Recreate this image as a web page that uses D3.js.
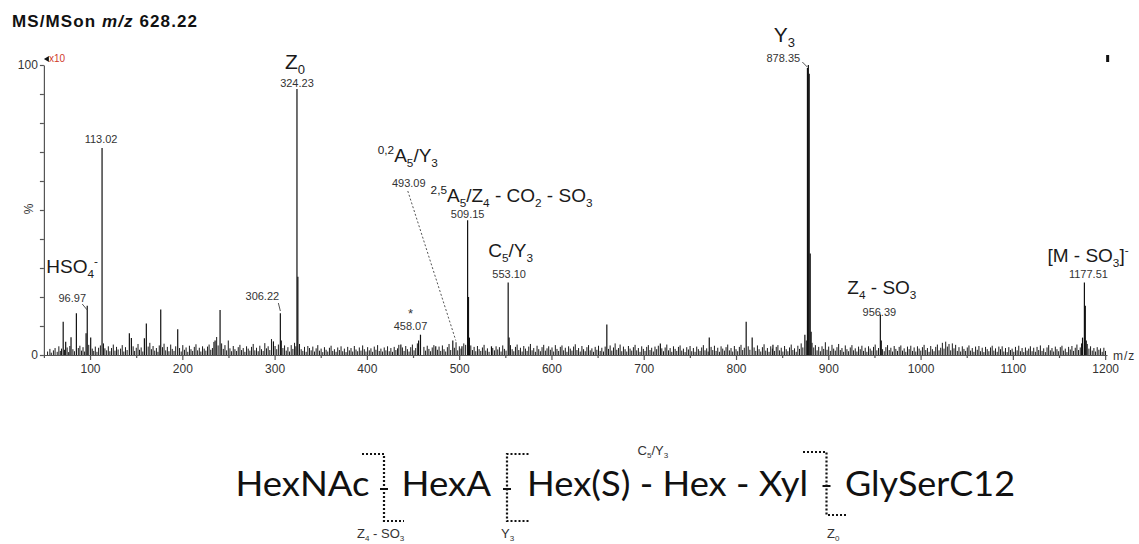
<!DOCTYPE html>
<html><head><meta charset="utf-8">
<script src="https://cdn.jsdelivr.net/npm/d3@7"></script>
<style>
body{margin:0;background:#fff}
</style>
</head><body>
<svg id="c" width="1139" height="544" style="font-family:Arial,'Liberation Sans',sans-serif"></svg>
<script>
// ---------- data ----------
const xTicks = [100,200,300,400,500,600,700,800,900,1000,1100,1200];
const xMinorTicks = [50,150,250,350,450,550,650,750,850,950,1050,1150];
const yTicks = [0,10,20,30,40,50,60,70,80,90,100];
const yTickLabels = {0:"0",100:"100"};

// [m/z, relative intensity %]
const majorPeaks = [
 [70.9,11.5],[73.6,4.6],[79.4,6.1],[85.2,14.4],[95.7,7.5],[96.97,17],[100.7,6],
 [113.02,71.4],[142.6,7.5],[144.8,5.9],[158.9,5.8],[161,10.9],[176.6,15.7],[195,8.9],
 [235.5,5],[240.9,15.5],[298.7,4.7],[306.22,14.4],[307.2,5],[324.23,91.7],[325.2,27],
 [436.8,3.6],[456,5],[458.07,7],[474.6,3],[493.09,5],[503,3],[509.15,46.5],[510.1,20],[511.1,6],
 [535,3],[553.10,25],[554.1,6],[660,10.5],[718,4],[771,6],[811,11.5],[817.5,6],[840,3.5],
 [874.6,7],[877.4,99],[878.35,100],[879.3,97],[880.4,35],[881.4,8],
 [956.39,14],[957.4,5],[1175.5,6],[1177.51,25],[1178.5,17],[1179.5,5]
];

const noisePeaks = [
 [54,1.2],[56.5,2.1],[58,0.8],[60.3,1.6],[62.1,2.4],[64.4,1.1],[66.2,3.0],[67.8,1.4],[69.1,2.2],[72.3,1.8],[75.2,2.6],[76.8,1.0],[78.1,3.1],[81.4,2.0],[83.1,1.3],[87.3,2.4],[89.0,3.2],[90.8,1.5],[92.4,2.7],[94.1,1.2],[98.6,3.5],
 [102.4,2.2],[104.0,1.4],[105.7,2.9],[107.5,1.1],[109.3,2.5],[111.2,3.3],[114.6,4.0],[116.1,2.3],[118.0,1.6],[119.8,3.0],[121.5,1.3],[123.3,2.4],[125.2,3.6],[127.0,1.5],[128.7,2.8],[130.4,1.9],[133.1,2.2],[134.9,3.4],[136.6,1.2],[138.4,2.7],[140.2,1.7],[146.7,3.0],[148.3,1.4],[150.1,2.5],[152.0,3.8],[153.6,1.8],[155.4,2.6],[157.2,1.2],[163.0,2.9],[164.8,4.2],[166.5,2.0],[168.3,3.1],[170.1,1.5],[171.9,2.4],[173.6,1.1],[175.0,3.3],[178.5,2.7],[180.2,3.9],[182.0,1.6],[183.8,2.8],[185.5,1.3],[187.4,3.6],[189.1,2.1],[191.0,1.4],[192.8,3.0],[197.0,2.4],[198.8,1.2],
 [200.5,3.4],[202.3,1.8],[204.1,2.6],[205.9,1.1],[207.7,3.2],[209.4,2.0],[211.2,1.4],[213.0,2.8],[214.8,3.7],[216.6,1.6],[218.4,2.5],[220.1,1.2],[221.9,3.0],[223.7,2.2],[225.5,1.5],[227.3,2.9],[229.0,3.6],[230.8,1.8],[232.6,2.4],[234.2,4.5],[237.2,6.2],[238.8,3.3],[242.6,4.0],[244.4,2.1],[246.2,3.4],[248.0,1.6],[249.8,5.0],[251.6,2.3],[253.4,1.3],[255.2,3.1],[257.0,2.0],[258.8,1.4],[260.6,2.7],[262.4,3.5],[264.2,1.7],[266.0,2.4],[267.8,1.1],[269.6,3.0],[271.4,2.2],[273.2,1.5],[275.0,2.8],[276.8,3.8],[278.6,1.6],[280.4,2.5],[282.2,1.3],[284.0,3.2],[285.8,2.0],[287.6,1.4],[289.4,4.1],[291.2,2.3],[293.0,3.0],[294.8,1.7],[296.6,5.5],
 [300.5,3.1],[302.3,2.0],[304.1,3.6],[309.0,2.4],[310.8,3.3],[312.6,1.5],[314.4,2.7],[316.2,1.2],[318.0,3.4],[319.8,2.1],[321.6,4.2],[323.0,3.0],[327.0,3.8],[328.8,2.0],[330.6,1.4],[332.4,2.8],[334.2,1.1],[336.0,3.1],[337.8,2.4],[339.6,1.6],[341.4,2.9],[343.2,1.2],[345.0,2.3],[346.8,3.4],[348.6,1.5],[350.4,2.2],[352.2,1.0],[354.0,2.7],[355.8,1.8],[357.6,1.2],[359.4,2.5],[361.2,3.2],[363.0,1.4],[364.8,2.0],[366.6,1.1],[368.4,2.6],[370.2,1.7],[372.0,3.0],[373.8,1.3],[375.6,2.2],[377.4,1.0],[379.2,2.8],[381.0,1.6],[382.8,2.4],[384.6,1.2],[386.4,3.1],[388.2,1.9],[390.0,1.3],[391.8,2.6],[393.6,1.5],[395.4,3.3],[397.2,2.0],[399.0,1.2],
 [400.8,2.7],[402.6,1.6],[404.4,2.3],[406.2,1.1],[408.0,2.9],[409.8,1.8],[411.6,3.4],[413.4,1.4],[415.2,2.2],[417.0,1.2],[418.8,2.6],[420.6,1.6],[422.4,3.0],[424.2,1.3],[426.0,2.4],[427.8,1.1],[429.6,2.8],[431.4,1.7],[433.2,2.3],[434.6,3.5],[438.5,2.6],[440.3,1.4],[442.1,3.1],[443.9,2.0],[445.7,1.2],[447.5,2.7],[449.3,3.6],[451.1,1.6],[452.9,2.4],[454.7,4.0],[461.8,2.8],[463.6,1.5],[465.4,3.2],[467.2,2.1],[469.0,1.3],[470.8,2.6],[472.6,3.4],[476.4,1.8],[478.2,2.9],[480.0,1.4],[481.8,3.3],[483.6,2.0],[485.4,1.2],[487.2,2.7],[489.0,3.8],[490.8,1.7],[494.8,2.5],[496.6,4.4],[498.4,1.6],
 [500.2,3.0],[502.0,2.2],[505.0,4.0],[507.0,3.5],[512.6,3.3],[514.4,1.7],[516.2,2.8],[518.0,1.3],[519.8,3.1],[521.6,2.0],[523.4,1.4],[525.2,2.6],[527.0,3.5],[528.8,1.5],[530.6,2.3],[532.4,1.1],[536.4,2.4],[538.2,1.6],[540.0,3.0],[541.8,1.9],[543.6,2.7],[545.4,1.2],[547.2,3.3],[549.0,2.1],[550.8,1.5],[555.6,3.4],[557.4,2.0],[559.2,1.3],[561.0,2.8],[562.8,3.6],[564.6,1.7],[566.4,2.5],[568.2,1.2],[570.0,3.1],[571.8,2.2],[573.6,1.4],[575.4,2.9],[577.2,3.8],[579.0,1.6],[580.8,2.4],[582.6,1.1],[584.4,3.2],[586.2,2.0],[588.0,1.3],[589.8,2.7],[591.6,3.5],[593.4,1.5],[595.2,2.3],[597.0,3.0],[598.8,1.8],
 [600.6,2.6],[602.4,1.2],[604.2,3.4],[606.0,2.1],[607.8,1.4],[609.6,2.8],[611.4,3.3],[613.2,1.6],[615.0,2.5],[616.8,1.1],[618.6,3.0],[620.4,2.2],[622.2,1.5],[624.0,2.9],[625.8,3.7],[627.6,1.7],[629.4,2.4],[631.2,1.2],[633.0,3.1],[634.8,2.0],[636.6,1.3],[638.4,2.7],[640.2,3.4],[642.0,1.6],[643.8,2.3],[645.6,1.1],[647.4,2.8],[649.2,1.8],[651.0,3.2],[652.8,1.4],[654.6,2.5],[656.4,1.2],[658.2,2.9],[661.8,2.1],[663.6,3.3],[665.4,1.5],[667.2,2.6],[669.0,4.0],[670.8,1.8],[672.6,2.4],[674.4,3.6],[676.2,1.3],[678.0,2.9],[679.8,2.0],[681.6,1.2],[683.4,3.1],[685.2,2.2],[687.0,1.5],[688.8,2.7],[690.6,3.5],[692.4,1.6],[694.2,2.4],[696.0,1.1],[697.8,3.0],[699.6,2.1],
 [701.4,1.4],[703.2,2.8],[705.0,3.4],[706.8,1.7],[708.6,2.5],[710.4,1.2],[712.2,2.9],[714.0,2.0],[715.8,3.2],[719.6,2.3],[721.4,1.3],[723.2,2.6],[725.0,3.6],[726.8,1.6],[728.6,2.4],[730.4,1.1],[732.2,3.0],[734.0,2.1],[735.8,1.4],[737.6,2.8],[739.4,3.3],[741.2,1.5],[743.0,2.2],[744.8,1.0],[746.6,2.7],[748.4,1.9],[750.2,3.1],[752.0,1.3],[753.8,2.4],[755.6,1.1],[757.4,2.9],[759.2,2.0],[761.0,1.4],[762.8,2.6],[764.6,3.4],[766.4,1.6],[768.2,2.3],[769.8,1.2],[773.0,2.8],[774.8,1.7],[776.6,3.2],[778.4,1.4],[780.2,2.5],[782.0,1.1],[783.8,3.0],[785.6,2.2],[787.4,1.5],[789.2,2.7],[791.0,3.6],[792.8,1.6],[794.6,2.4],[796.4,1.2],[798.2,3.1],
 [800.0,2.0],[801.8,1.3],[803.6,2.8],[805.4,3.5],[807.2,1.7],[809.0,2.5],[813.2,3.0],[815.0,1.8],[819.6,2.6],[821.4,1.4],[823.2,3.3],[825.0,2.0],[826.8,1.2],[828.6,2.7],[830.4,3.7],[832.2,1.5],[834.0,2.4],[835.8,1.1],[837.6,3.0],[839.4,2.2],[841.8,1.4],[843.6,2.8],[845.4,3.4],[847.2,1.6],[849.0,2.5],[850.8,1.2],[852.6,3.1],[854.4,2.0],[856.2,1.3],[858.0,2.6],[859.8,3.6],[861.6,1.7],[863.4,2.3],[865.2,1.1],[867.0,3.2],[868.8,2.1],[870.6,4.0],[872.4,2.6],[876.2,5.0],[882.4,4.2],[884.2,2.6],[886.0,3.4],[887.8,1.6],[889.6,2.8],[891.4,1.3],[893.2,3.0],[895.0,2.1],[896.8,4.4],[898.6,1.8],
 [900.4,2.9],[902.2,1.4],[904.0,3.5],[905.8,2.2],[907.6,1.5],[909.4,2.7],[911.2,3.8],[913.0,1.7],[914.8,2.4],[916.6,1.1],[918.4,3.3],[920.2,2.0],[922.0,1.3],[923.8,2.6],[925.6,3.4],[927.4,1.6],[929.2,2.3],[931.0,1.2],[932.8,2.9],[934.6,2.0],[936.4,3.2],[938.2,1.4],[940.0,2.5],[941.8,1.1],[943.6,3.0],[945.4,2.2],[947.2,1.5],[949.0,2.8],[950.8,3.6],[952.6,1.6],[954.4,2.4],[958.8,2.0],[960.6,1.3],[962.4,2.7],[964.2,3.4],[966.0,1.7],[967.8,2.5],[969.6,1.2],[971.4,3.1],[973.2,2.1],[975.0,1.4],[976.8,2.8],[978.6,3.3],[980.4,1.5],[982.2,2.3],[984.0,1.1],[985.8,2.9],[987.6,2.0],[989.4,3.2],[991.2,1.4],[993.0,2.6],[994.8,1.2],[996.6,3.0],[998.4,2.2],
 [1000.2,1.5],[1002.0,2.7],[1003.8,3.5],[1005.6,1.7],[1007.4,2.4],[1009.2,1.1],[1011.0,3.1],[1012.8,2.0],[1014.6,1.3],[1016.4,2.8],[1018.2,3.6],[1020.0,1.6],[1021.8,2.5],[1023.6,4.2],[1025.4,2.2],[1027.2,4.6],[1029.0,2.9],[1030.8,3.8],[1032.6,1.6],[1034.4,4.0],[1036.2,2.3],[1038.0,3.5],[1039.8,1.4],[1041.6,2.7],[1043.4,1.2],[1045.2,3.0],[1047.0,2.1],[1048.8,1.4],[1050.6,2.6],[1052.4,3.3],[1054.2,1.5],[1056.0,2.4],[1057.8,1.1],[1059.6,2.9],[1061.4,1.8],[1063.2,3.1],[1065.0,1.3],[1066.8,2.5],[1068.6,1.0],[1070.4,2.8],[1072.2,2.0],[1074.0,1.3],[1075.8,2.6],[1077.6,3.2],[1079.4,1.5],[1081.2,2.3],[1083.0,1.1],[1084.8,2.9],[1086.6,2.0],[1088.4,3.0],[1090.2,1.2],[1092.0,2.4],[1093.8,1.0],[1095.6,2.7],[1097.4,1.7],[1099.2,2.2],
 [1101.0,1.1],[1102.8,2.8],[1104.6,1.6],[1106.4,3.2],[1108.2,1.3],[1110.0,2.4],[1111.8,1.0],[1113.6,2.6],[1115.4,1.5],[1117.2,2.2],[1119.0,3.0],[1120.8,1.3],[1122.6,2.5],[1124.4,1.1],[1126.2,2.8],[1128.0,1.7],[1129.8,3.3],[1131.6,1.4],[1133.4,2.3],[1135.2,1.0],[1137.0,2.6],[1138.8,3.4],[1140.6,1.6],[1142.4,2.4],[1144.2,1.2],[1146.0,2.9],[1147.8,2.0],[1149.6,1.3],[1151.4,2.7],[1153.2,3.2],[1155.0,1.5],[1156.8,2.2],[1158.6,1.0],[1160.4,2.8],[1162.2,1.9],[1164.0,3.1],[1165.8,1.4],[1167.6,2.5],[1169.4,3.6],[1171.2,1.7],[1173.0,2.6],[1174.4,4.0],[1180.6,3.8],[1182.4,2.2],[1184.2,3.0],[1186.0,1.5],[1187.8,2.4],[1189.6,1.2],[1191.4,2.7],[1193.2,1.8],[1195.0,2.3],[1196.8,1.1],[1198.6,2.5],[1200.4,1.4]
];

// ion annotations: [m/z, ion name parts, m/z label]
const ionLabels = [
 {mz:324.23, name:[["Z"],["0","sub"]], value:"324.23"},
 {mz:113.02, name:null, value:"113.02"},
 {mz:96.97, name:[["HSO"],["4","sub"],["-","sup"]], value:"96.97"},
 {mz:306.22, name:null, value:"306.22"},
 {mz:458.07, name:[["*"]], value:"458.07"},
 {mz:493.09, name:[["0,2","sup"],["A"],["5","sub"],["/Y"],["3","sub"]], value:"493.09"},
 {mz:509.15, name:[["2,5","sup"],["A"],["5","sub"],["/Z"],["4","sub"],[" - CO"],["2","sub"],[" - SO"],["3","sub"]], value:"509.15"},
 {mz:553.10, name:[["C"],["5","sub"],["/Y"],["3","sub"]], value:"553.10"},
 {mz:878.35, name:[["Y"],["3","sub"]], value:"878.35"},
 {mz:956.39, name:[["Z"],["4","sub"],[" - SO"],["3","sub"]], value:"956.39"},
 {mz:1177.51, name:[["[M - SO"],["3","sub"],["]"],["-","sup"]], value:"1177.51"}
];

const structureSegments = ["HexNAc","HexA","Hex(S) - Hex - Xyl","GlySerC12"];
const cleavageLabels = [
 [["C"],["5","sub"],["/Y"],["3","sub"]],
 [["Z"],["4","sub"],[" - SO"],["3","sub"]],
 [["Y"],["3","sub"]],
 [["Z"],["0","sub"]]
];

// ---------- drawing ----------
const svg = d3.select("#c");
const x = d3.scaleLinear().domain([50,1202]).range([43.9,1107]);
const y = d3.scaleLinear().domain([0,100]).range([355,65]);

function rich(g, px, py, parts, size, anchor, fill){
  const t = g.append("text").attr("x",px).attr("y",py)
    .attr("font-size",size).attr("text-anchor",anchor||"start").attr("fill",fill||"#1a1a1a");
  let shift = 0;
  parts.forEach(p=>{
    const kind = p[1]||"n";
    let target = 0, fs = size;
    if(kind==="sub"){ target = size*0.24; fs = size*0.62; }
    if(kind==="sup"){ target = -size*0.40; fs = size*0.62; }
    t.append("tspan").attr("dy", target-shift).attr("font-size",fs).text(p[0]);
    shift = target;
  });
  return t;
}

// title
svg.append("text").attr("x",12).attr("y",27).attr("font-size",17).attr("font-weight","bold")
  .attr("fill","#111").attr("textLength",185).attr("lengthAdjust","spacing")
  .html('MS/MSon <tspan font-style="italic">m/z</tspan> 628.22');

// peaks
const pk = svg.append("g");
pk.selectAll("line.n").data(noisePeaks).join("line").attr("class","n")
  .attr("x1",d=>x(d[0])).attr("x2",d=>x(d[0])).attr("y1",y(0)).attr("y2",d=>y(d[1]))
  .attr("stroke","#1a1a1a").attr("stroke-width",1);
pk.selectAll("line.m").data(majorPeaks).join("line").attr("class","m")
  .attr("x1",d=>x(d[0])).attr("x2",d=>x(d[0])).attr("y1",y(0)).attr("y2",d=>y(d[1]))
  .attr("stroke","#111").attr("stroke-width",1.2);

// axes
const axCol = "#555";
const gx = svg.append("g").attr("transform",`translate(0,${y(0)})`)
  .call(d3.axisBottom(x).tickValues(xTicks).tickSize(5).tickSizeOuter(0).tickPadding(4).tickFormat(d3.format("d")));
const gxm = svg.append("g").attr("transform",`translate(0,${y(0)})`)
  .call(d3.axisBottom(x).tickValues(xMinorTicks).tickSize(3).tickFormat(""));
gxm.select(".domain").remove();
const gy = svg.append("g").attr("transform",`translate(${x(50)},0)`)
  .call(d3.axisLeft(y).tickValues(yTicks).tickSize(4).tickSizeOuter(0).tickPadding(2)
    .tickFormat(d=>yTickLabels[d]||""));
[gx,gxm,gy].forEach(g=>{
  g.selectAll("path,line").attr("stroke",axCol).attr("stroke-width",1.2);
  g.selectAll("text").attr("font-size",12).attr("fill","#333")
    .style("font-family","Arial, 'Liberation Sans', sans-serif");
});
svg.append("text").attr("x",1113).attr("y",360).attr("font-size",12).attr("fill","#333")
  .attr("letter-spacing",1).text("m/z");
svg.append("text").attr("transform",`translate(33,209) rotate(-90)`).attr("text-anchor","middle")
  .attr("font-size",12).attr("fill","#333").text("%");

// x10 marker
svg.append("path").attr("d",`M${x(50)+5},${y(100)-9} L${x(50)},${y(100)-6} L${x(50)+5},${y(100)-3} Z`).attr("fill","#111");
svg.append("text").attr("x",x(50)+5).attr("y",y(100)-3).attr("font-size",10).attr("fill","#d03a2a").text("x10");
svg.append("rect").attr("x",x(1200)+1).attr("y",y(100)-10).attr("width",3).attr("height",7).attr("fill","#111");

// annotations
const an = svg.append("g");
const lab = m => ionLabels.find(d=>d.mz===m);
const NAME = 19, VAL = 11, vCol = "#333";
function val(m, dx, py){ an.append("text").attr("x",x(m)+dx).attr("y",py).attr("font-size",VAL)
  .attr("text-anchor","middle").attr("fill",vCol).text(lab(m).value); }
function leader(x1,y1,x2,y2,dash){ an.append("line").attr("x1",x1).attr("y1",y1).attr("x2",x2).attr("y2",y2)
  .attr("stroke","#555").attr("stroke-width",1).attr("stroke-dasharray",dash?"2,2":null); }

rich(an, x(324.23)-2, 69, lab(324.23).name, 21, "middle");
val(324.23, 0, 87);
val(113.02, -1, 143);
rich(an, x(96.97)-41, 273, lab(96.97).name, NAME, "start");
val(96.97, -15, 302);
leader(x(96.97)-5, 304, x(96.97), 310);
val(306.22, -18, 300);
leader(x(306.22)-2, 303, x(306.22), 311);
rich(an, x(458.07)-10, 318, lab(458.07).name, 13, "middle", "#333");
val(458.07, -10, 330);
rich(an, x(493.09)-75, 162, lab(493.09).name, NAME, "start");
val(493.09, -44, 187);
leader(x(493.09)-45, 191, x(493.09)+3, y(5), true);
rich(an, x(509.15)-37, 202, lab(509.15).name, NAME, "start");
val(509.15, 0, 218);
rich(an, x(553.10)-20, 257, lab(553.10).name, NAME, "start");
val(553.10, 1, 278);
rich(an, x(878.35)-24, 42, lab(878.35).name, 21, "middle");
val(878.35, -25, 62);
leader(x(878.35)-6, 62, x(878.35)-1, 67);
rich(an, x(956.39)-33, 294, lab(956.39).name, NAME, "start");
val(956.39, -1, 316);
rich(an, x(1177.51)-37, 262, lab(1177.51).name, NAME, "start");
val(1177.51, 4, 278);

// ---------- glycan structure ----------
const st = svg.append("g");
const segX = [[235.5,134],[401.5,89.5],[527,281],[845,170]];
structureSegments.forEach((s,i)=>{
  st.append("text").attr("x",segX[i][0]).attr("y",496).style("font-family","Lato, 'Open Sans', sans-serif")
    .attr("font-size",34).attr("fill","#111").attr("textLength",segX[i][1]).attr("lengthAdjust","spacingAndGlyphs").text(s);
});
function dotted(pts){ st.append("path").attr("d",d3.line()(pts)).attr("fill","none")
  .attr("stroke","#111").attr("stroke-width",2.2).attr("stroke-dasharray","2,2"); }
function dash(cx,cy){ st.append("line").attr("x1",cx-4).attr("x2",cx+4).attr("y1",cy).attr("y2",cy)
  .attr("stroke","#111").attr("stroke-width",2); }
dotted([[362,454],[384,454],[384,521],[404,521]]); dash(384,489);
dotted([[528.5,454],[507,454],[507,521],[528.5,521]]); dash(507,489);
dotted([[803,452],[826.5,452],[826.5,515],[848,515]]); dash(826.5,486);
rich(st, 637.5, 455, cleavageLabels[0], 13, "start", "#333");
rich(st, 357, 538, cleavageLabels[1], 13, "start", "#333");
rich(st, 501, 538, cleavageLabels[2], 13, "start", "#333");
rich(st, 827, 538, cleavageLabels[3], 13, "start", "#333");
</script>
</body></html>
